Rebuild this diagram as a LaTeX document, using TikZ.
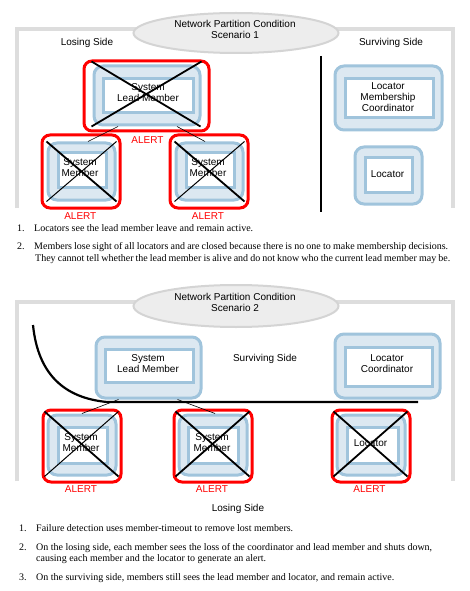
\documentclass[tikz,border=0pt]{standalone}
\usepackage{fontspec}
\setmainfont{Liberation Serif}
\newfontfamily\diagfont{Liberation Sans}
\usetikzlibrary{calc,shapes.geometric}
\definecolor{nodeblue}{HTML}{A0C4DC}
\definecolor{nodefill}{HTML}{DCE8F1}
\definecolor{framegray}{HTML}{DDDDDD}
\definecolor{ellborder}{HTML}{D4D4D4}
\definecolor{ellfill}{HTML}{EDEDED}
\newcommand{\spreadline}[2]{\makebox[#1bp][s]{#2}}
\tikzset{
  frame/.style={draw=framegray, line width=4bp},
  titleell/.style={ellipse, draw=ellborder, line width=2bp, fill=ellfill, inner sep=0},
  outerbox/.style={draw=nodeblue, line width=3bp, fill=nodefill, rounded corners=9bp, inner sep=0},
  innerbox/.style={draw=nodeblue, line width=3bp, fill=white, inner sep=0},
  alertbox/.style={draw=red, line width=3bp, rounded corners=8bp, inner sep=0},
  crossthick/.style={draw=black, line width=1.8bp},
  crossthin/.style={draw=black, line width=1bp},
  link/.style={draw=black, line width=0.6bp},
  divider/.style={draw=black, line width=2bp},
  dtext/.style={font=\diagfont\fontsize{10bp}{11bp}\selectfont, align=center, inner sep=0},
  alerttext/.style={dtext, text=red},
  listtext/.style={font=\fontsize{10bp}{12bp}\selectfont, anchor=base west, inner sep=0},
}
\begin{document}
\begin{tikzpicture}[x=1bp,y=-1bp]
\useasboundingbox (0,0) rectangle (470,591);
\fill[white] (0,0) rectangle (470,591);

% ---------------- Scenario 1 ----------------
\draw[frame] (17,208) -- (17,29) -- (453,29) -- (453,208);
\node[titleell, minimum width=205bp, minimum height=40bp] (ell1) at (236,33) {};
\node[dtext] (ell1t) at (235,29) {Network Partition Condition\\Scenario 1};
\node[dtext] (lose1) at (87,43) {Losing Side};
\node[dtext] (surv1) at (391,43) {Surviving Side};
\coordinate (div1a) at (321,56);
\coordinate (div1b) at (321,212);
\draw[divider] (div1a) -- (div1b);

% lead member
\node[outerbox, minimum width=106bp, minimum height=59bp] (lead1) at (147,95.5) {};
\node[innerbox, minimum width=90bp, minimum height=34bp] (lead1i) at (148,96) {};
\node[dtext] (lead1t) at (148,92.3) {System\\Lead Member};
\node[alertbox, minimum width=125bp, minimum height=70bp] (lead1r) at (146.5,96) {};
\draw[crossthick] ($(lead1.north west)+(-1,-3)$) -- ($(lead1.south east)+(-1,0)$);
\draw[crossthick] ($(lead1.north east)+(0,-3)$) -- ($(lead1.south west)+(-1,0)$);
\node[alerttext] (lead1a) at (147.5,140) {ALERT};

% members
\node[outerbox, minimum width=67bp, minimum height=57bp] (m1a) at (81.5,171.5) {};
\node[innerbox, minimum width=48bp, minimum height=34bp] (m1ai) at (82,170) {};
\node[dtext] (m1at) at (80,168) {System\\Member};
\node[alertbox, minimum width=78bp, minimum height=73bp] (m1ar) at (81,171.5) {};
\draw[crossthick] (m1a.north west) -- (m1a.south east);
\draw[crossthin] (m1a.south west) -- (m1a.north east);
\node[alerttext] (m1aa) at (80.3,215.7) {ALERT};

\node[outerbox, minimum width=67bp, minimum height=57bp] (m1b) at (209.5,171.5) {};
\node[innerbox, minimum width=48bp, minimum height=34bp] (m1bi) at (210.5,170) {};
\node[dtext] (m1bt) at (208,168) {System\\Member};
\node[alertbox, minimum width=78bp, minimum height=73bp] (m1br) at (209,171.5) {};
\draw[crossthick] (m1b.north west) -- (m1b.south east);
\draw[crossthin] (m1b.south west) -- (m1b.north east);
\node[alerttext] (m1ba) at (208,215.7) {ALERT};

\draw[link] ($(lead1.south)+(-29,0)$) -- ($(m1a.north)+(6.5,0)$);
\draw[link] ($(lead1.south)+(30,0)$) -- ($(m1b.north)+(-4.5,0)$);

% surviving side
\node[outerbox, minimum width=107bp, minimum height=64bp] (lmc) at (388.5,98) {};
\node[innerbox, minimum width=88bp, minimum height=39bp] (lmci) at (389,98.5) {};
\node[dtext] (lmct) at (388,97.5) {Locator\\Membership\\Coordinator};
\node[outerbox, minimum width=67bp, minimum height=57bp] (loc1) at (388.5,175.5) {};
\node[innerbox, minimum width=47bp, minimum height=34bp] (loc1i) at (388.5,175) {};
\node[dtext] (loc1t) at (387.5,173.7) {Locator};

% list 1
\node[listtext] (l1n1) at (17,231) {1.};
\node[listtext] (l1t1) at (34,231) {\spreadline{219}{Locators see the lead member leave and remain active.}};
\node[listtext] (l1n2) at (17,249) {2.};
\node[listtext] (l1t2) at (34,249) {\spreadline{414}{Members lose sight of all locators and are closed because there is no one to make membership decisions.}};
\node[listtext] (l1t3) at (35,261) {\spreadline{415}{They cannot tell whether the lead member is alive and do not know who the current lead member may be.}};

% ---------------- Scenario 2 ----------------
\draw[frame] (17,481) -- (17,302) -- (453,302) -- (453,481);
\node[titleell, minimum width=205bp, minimum height=42bp] (ell2) at (236,306) {};
\node[dtext] (ell2t) at (235,302) {Network Partition Condition\\Scenario 2};

\node[outerbox, minimum width=105bp, minimum height=61bp] (lead2) at (148.5,367.5) {};
\node[innerbox, minimum width=88bp, minimum height=33bp] (lead2i) at (149,365.5) {};
\node[dtext] (lead2t) at (148,363.2) {System\\Lead Member};
\node[dtext] (surv2) at (265,359) {Surviving Side};
\node[outerbox, minimum width=105bp, minimum height=64bp] (lc) at (387.5,366) {};
\node[innerbox, minimum width=87bp, minimum height=39bp] (lci) at (388.5,366.5) {};
\node[dtext] (lct) at (387,363.8) {Locator\\Coordinator};

\coordinate (cstart) at (33,325);
\coordinate (cend) at (107,402);
\coordinate (lend) at (418,402);
\draw[black, line width=2.2bp] (cstart) .. controls (38,375) and (65,398) .. (cend) -- (lend);

\node[outerbox, minimum width=68bp, minimum height=60bp] (m2a) at (82,445) {};
\node[innerbox, minimum width=49bp, minimum height=36bp] (m2ai) at (82.5,445) {};
\node[dtext] (m2at) at (81,442.2) {System\\Member};
\node[alertbox, minimum width=78bp, minimum height=72bp] (m2ar) at (82,446) {};
\draw[crossthick] ($(m2a.north west)+(-2,-2)$) -- ($(m2a.south east)+(1,0)$);
\draw[crossthin] ($(m2a.south west)+(-2,0)$) -- ($(m2a.north east)+(1,-2)$);
\node[alerttext] (m2aa) at (81,489.3) {ALERT};

\node[outerbox, minimum width=68bp, minimum height=60bp] (m2b) at (213,445) {};
\node[innerbox, minimum width=50bp, minimum height=36bp] (m2bi) at (213.5,445) {};
\node[dtext] (m2bt) at (212,442.2) {System\\Member};
\node[alertbox, minimum width=78bp, minimum height=72bp] (m2br) at (213,446) {};
\draw[crossthick] ($(m2b.north west)+(-2,-2)$) -- ($(m2b.south east)+(1,0)$);
\draw[crossthick] ($(m2b.south west)+(-2,0)$) -- ($(m2b.north east)+(1,-2)$);
\node[alerttext] (m2ba) at (212,489.3) {ALERT};

\node[outerbox, minimum width=68bp, minimum height=60bp] (m2c) at (371,445) {};
\node[innerbox, minimum width=51bp, minimum height=36bp] (m2ci) at (372.5,445) {};
\node[dtext] (m2ct) at (370.5,442.7) {Locator};
\node[alertbox, minimum width=78bp, minimum height=72bp] (m2cr) at (371,446) {};
\draw[crossthick] ($(m2c.north west)+(-2,-2)$) -- ($(m2c.south east)+(1,0)$);
\draw[crossthick] ($(m2c.south west)+(-2,0)$) -- ($(m2c.north east)+(1,-2)$);
\node[alerttext] (m2ca) at (369.5,488.7) {ALERT};

\draw[link] ($(lead2.south)+(-30,0)$) -- (m2a.north);
\draw[link] ($(lead2.south)+(29,0)$) -- ($(m2b.north)+(2,0)$);

\node[dtext] (lose2) at (238,509.3) {Losing Side};

% list 2
\node[listtext] (l2n1) at (19,531.5) {1.};
\node[listtext] (l2t1) at (36,531.5) {\spreadline{257}{Failure detection uses member-timeout to remove lost members.}};
\node[listtext] (l2n2) at (19,550) {2.};
\node[listtext] (l2t2) at (36,550) {\spreadline{396}{On the losing side, each member sees the loss of the coordinator and lead member and shuts down,}};
\node[listtext] (l2t3) at (36,561.5) {\spreadline{230}{causing each member and the locator to generate an alert.}};
\node[listtext] (l2n3) at (19,580) {3.};
\node[listtext] (l2t4) at (36,580) {\spreadline{358}{On the surviving side, members still sees the lead member and locator, and remain active.}};
\end{tikzpicture}
\end{document}
